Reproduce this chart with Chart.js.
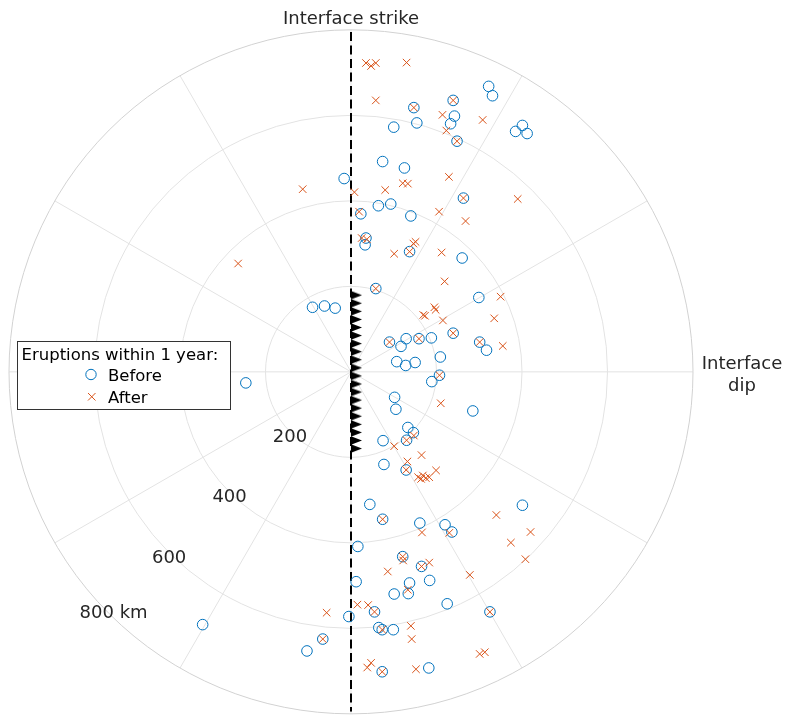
<!DOCTYPE html>
<html>
<head>
<meta charset="utf-8">
<script src="https://cdn.jsdelivr.net/npm/chart.js@4/dist/chart.umd.min.js"></script>
<style>
  html, body { margin: 0; padding: 0; background: #ffffff; }
  #wrap { position: relative; width: 785px; height: 718px; }
</style>
</head>
<body>
<div id="wrap"><canvas id="c"></canvas></div>
<script>
// Eruption locations relative to the subduction interface, in km.
// x = distance along dip, y = distance along strike.
const beforeX = [147, 239, 322, 331, 242, 233, 154, 100, 248, 401, 385, 412, 74, 125, -16, 263, 23, 64, 93, 140,
  35, 33, 137, 260, 58, 299, -90, -62, -37, 90, 129, 117, 159, 188, 239, 301, 317, 209, 107, 128,
  150, 207, 189, 102, 105, 285, 133, 146, 130, 75, 77, 129, 44, 74, 161, 220, 236, 401, 16, 121,
  165, 12, 137, 184, 134, 101, 225, 325, 55, -5, 65, 73, 99, -66, -103, 73, 182, -246, -347];
const beforeY = [622, 639, 672, 650, 602, 584, 586, 576, 543, 580, 566, 561, 495, 480, 455, 409, 372, 391, 395, 367,
  315, 299, 283, 268, 196, 175, 152, 155, 150, 70, 78, 60, 78, 80, 91, 70, 51, 35, 24, 15,
  22, -8, -23, -60, -88, -92, -131, -143, -161, -162, -218, -231, -312, -347, -356, -360, -377, -314, -411, -435,
  -458, -494, -497, -491, -522, -523, -546, -565, -565, -576, -602, -607, -607, -629, -657, -706, -697, -26, -595];

const afterX = [35, 47, 58, 130, 58, 147, 239, 214, 308, 223, 248, 229, 121, 133, 80, -113, 8, 263, 390, 19,
  206, 268, 25, 37, 151, 146, 137, 101, 212, 219, 58, 350, 169, 173, 195, 198, 215, 335, 90, 159,
  239, 301, 355, 207, 210, 147, 130, 101, 165, 132, 129, 157, 168, 164, 175, 183, 199, 74, 166, 230,
  340, 420, 374, 408, 121, 122, 165, 183, 86, 278, 133, 325, -57, 15, 40, 55, 73, 140, 142, -66,
  301, 313, 38, 47, 73, 152, -264];
const afterY = [727, 720, 727, 728, 639, 622, 639, 605, 593, 568, 543, 459, 444, 443, 428, 430, 423, 409, 407, 377,
  377, 355, 315, 312, 306, 302, 283, 278, 281, 213, 196, 177, 134, 132, 152, 146, 121, 126, 70, 78,
  91, 70, 61, -8, -74, -150, -161, -175, -196, -211, -231, -248, -244, -252, -250, -248, -232, -347, -378, -379,
  -337, -377, -402, -441, -435, -444, -458, -449, -470, -478, -513, -565, -567, -548, -549, -565, -607, -598, -629, -629,
  -664, -660, -696, -685, -706, -700, 255];

// Interface trace: teeth along strike (km)
const interfaceY = [-180.5, -161.5, -142.5, -123.5, -104.5, -85.5, -66.5, -47.5, -28.5, -9.5,
  9.5, 28.5, 47.5, 66.5, 85.5, 104.5, 123.5, 142.5, 161.5, 180.5];

// Polar grid
const ringValues = [200, 400, 600, 800];
const ringLabels = ['200', '400', '600', '800 km'];
const spokeAngles = [0, 30, 60, 90, 120, 150, 180, 210, 240, 270, 300, 330];
const maxRange = 800;

const BLUE = '#0072BD';
const ORANGE = '#D95319';
const TEXT = '#262626';
const FONT = '"DejaVu Sans", Verdana, sans-serif';

const toPoints = (xs, ys) => xs.map((v, i) => ({ x: v, y: ys[i] }));

// Right-pointing tooth whose base sits on the interface line
function makeTooth() {
  const cv = document.createElement('canvas');
  cv.width = 24; cv.height = 9;
  const g = cv.getContext('2d');
  g.fillStyle = '#000';
  g.beginPath();
  g.moveTo(12, 0.3);
  g.lineTo(23, 4.5);
  g.lineTo(12, 8.7);
  g.closePath();
  g.fill();
  return cv;
}

const polarGrid = {
  id: 'polarGrid',
  beforeDatasetsDraw(chart) {
    const { ctx } = chart;
    const sx = chart.scales.x, sy = chart.scales.y;
    const cx = sx.getPixelForValue(0), cy = sy.getPixelForValue(0);
    const rpx = v => sx.getPixelForValue(v) - cx;
    const R = rpx(maxRange);
    ctx.save();
    ctx.lineWidth = 1;
    ctx.strokeStyle = '#e3e3e3';
    spokeAngles.forEach(a => {
      const t = a * Math.PI / 180;
      ctx.beginPath();
      ctx.moveTo(cx, cy);
      ctx.lineTo(cx + R * Math.cos(t), cy - R * Math.sin(t));
      ctx.stroke();
    });
    ringValues.forEach(v => {
      ctx.beginPath();
      ctx.strokeStyle = v === maxRange ? '#d2d2d2' : '#e3e3e3';
      ctx.arc(cx, cy, rpx(v), 0, Math.PI * 2);
      ctx.stroke();
    });
    ctx.restore();
  },
  afterDraw(chart) {
    const { ctx } = chart;
    const sx = chart.scales.x, sy = chart.scales.y;
    const cx = sx.getPixelForValue(0), cy = sy.getPixelForValue(0);
    const rpx = v => sx.getPixelForValue(v) - cx;
    const R = rpx(maxRange);
    ctx.save();
    ctx.fillStyle = TEXT;
    ctx.font = '18px ' + FONT;
    ctx.textAlign = 'center';
    ctx.textBaseline = 'middle';
    // range labels along the lower-left diagonal
    ringValues.forEach((v, i) => {
      const r = Math.min(rpx(v), R - 7);
      ctx.fillText(ringLabels[i], cx - r * Math.SQRT1_2 - 0.5, cy + r * Math.SQRT1_2 + 5);
    });
    // direction labels
    ctx.fillText('Interface strike', cx, cy - R - 11);
    ctx.fillText('Interface', cx + R + 49, cy - 8);
    ctx.fillText('dip', cx + R + 49, cy + 14.5);

    // legend
    const lx = 17.5, ly = 341.5, lw = 213, lh = 68;
    ctx.fillStyle = '#ffffff';
    ctx.fillRect(lx, ly, lw, lh);
    ctx.strokeStyle = '#333333';
    ctx.lineWidth = 1;
    ctx.strokeRect(lx, ly, lw, lh);
    ctx.fillStyle = '#000000';
    ctx.font = '16.5px ' + FONT;
    ctx.textAlign = 'left';
    ctx.fillText('Eruptions within 1 year:', 21.5, 355.5);
    ctx.fillText('Before', 108, 376.5);
    ctx.fillText('After', 108, 398.5);
    ctx.strokeStyle = BLUE;
    ctx.beginPath();
    ctx.arc(91, 374.5, 5.2, 0, Math.PI * 2);
    ctx.stroke();
    ctx.strokeStyle = ORANGE;
    ctx.beginPath();
    ctx.moveTo(88, 393); ctx.lineTo(95.5, 400.5);
    ctx.moveTo(95.5, 393); ctx.lineTo(88, 400.5);
    ctx.stroke();
    ctx.restore();
  }
};

new Chart(document.getElementById('c'), {
  type: 'scatter',
  data: {
    datasets: [
      {
        label: 'After',
        data: toPoints(afterX, afterY),
        pointStyle: 'crossRot',
        pointRadius: 5.3,
        borderColor: ORANGE,
        backgroundColor: ORANGE,
        pointBorderWidth: 1,
        order: 0
      },
      {
        label: 'Before',
        data: toPoints(beforeX, beforeY),
        pointStyle: 'circle',
        pointRadius: 5.3,
        borderColor: BLUE,
        backgroundColor: 'rgba(0,0,0,0)',
        pointBorderWidth: 1,
        order: 1
      },
      {
        label: 'Interface',
        data: interfaceY.map(v => ({ x: 0, y: v })),
        pointStyle: makeTooth(),
        order: 2
      },
      {
        label: 'Strike line',
        type: 'line',
        data: [{ x: 0, y: maxRange }, { x: 0, y: -maxRange }],
        borderColor: '#000000',
        borderWidth: 2,
        borderDash: [9, 4.5],
        pointRadius: 0,
        fill: false,
        order: 3
      }
    ]
  },
  options: {
    responsive: true,
    maintainAspectRatio: false,
    animation: false,
    events: [],
    layout: { padding: { left: 9, right: 92, top: 32, bottom: 2 } },
    scales: {
      x: { type: 'linear', min: -maxRange, max: maxRange, display: false },
      y: { type: 'linear', min: -maxRange, max: maxRange, display: false }
    },
    plugins: {
      legend: { display: false },
      tooltip: { enabled: false }
    }
  },
  plugins: [polarGrid]
});
</script>
</body>
</html>
